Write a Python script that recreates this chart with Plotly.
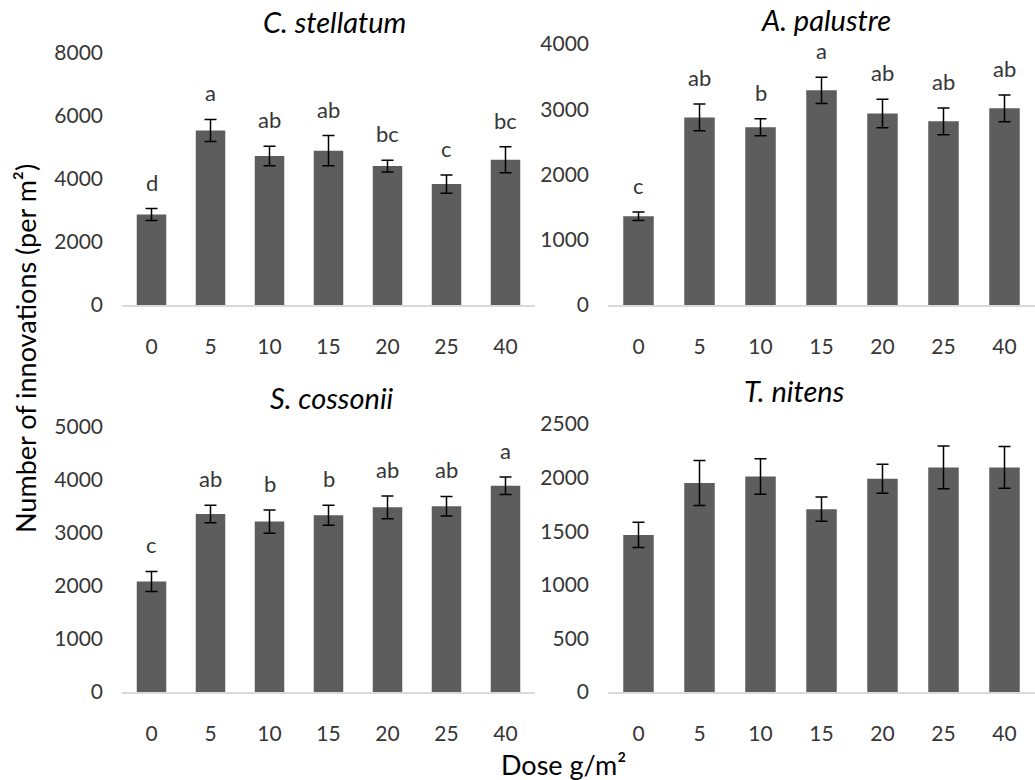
import plotly.graph_objects as go

doses = ["0", "5", "10", "15", "20", "25", "40"]

cs_mean = [2870, 5540, 4730, 4900, 4410, 3840, 4610]
cs_err = [190, 350, 310, 480, 185, 290, 410]
cs_letters = ["d", "a", "ab", "ab", "bc", "c", "bc"]

ap_mean = [1360, 2875, 2725, 3290, 2935, 2815, 3015]
ap_err = [65, 205, 130, 200, 220, 205, 205]
ap_letters = ["c", "ab", "b", "a", "ab", "ab", "ab"]

sc_mean = [2085, 3360, 3215, 3335, 3485, 3505, 3890]
sc_err = [190, 165, 220, 190, 215, 185, 165]
sc_letters = ["c", "ab", "b", "b", "ab", "ab", "a"]

tn_mean = [1465, 1950, 2010, 1705, 1990, 2095, 2095]
tn_err = [118, 210, 165, 113, 135, 200, 195]

titles = ["C. stellatum", "A. palustre", "S. cossonii", "T. nitens"]
y_title = "Number of innovations (per m²)"
x_title = "Dose g/m²"

BAR = "#5d5d5d"
TXT = "#363636"
FONT = "Lato"
W, H = 1035, 780

panels = [
    (cs_mean, cs_err, cs_letters, "x", "y", [0, 8000], 2000),
    (ap_mean, ap_err, ap_letters, "x2", "y2", [0, 4000], 1000),
    (sc_mean, sc_err, sc_letters, "x3", "y3", [0, 5000], 1000),
    (tn_mean, tn_err, None, "x4", "y4", [0, 2500], 500),
]

fig = go.Figure()
annotations = []
for mean, err, letters, xa, ya, rng, dt in panels:
    fig.add_trace(go.Bar(
        x=doses, y=mean, xaxis=xa, yaxis=ya,
        marker=dict(color=BAR, line=dict(width=0)),
        error_y=dict(type="data", array=err, color="black", thickness=1.5, width=6),
        showlegend=False,
    ))
    if letters:
        for i, (m, e, t) in enumerate(zip(mean, err, letters)):
            annotations.append(dict(
                x=i, y=m + e, xref=xa, yref=ya, text=t, showarrow=False,
                yanchor="bottom", yshift=11,
                font=dict(family=FONT, size=22, color=TXT),
            ))

def px_x(p):
    return p / W

def px_y(p):
    return 1 - p / H

xd_left = [px_x(122), px_x(535)]
xd_right = [px_x(608), 1.0]
yd = {
    "y": [px_y(305), px_y(53)],
    "y2": [px_y(305), px_y(44)],
    "y3": [px_y(692), px_y(427)],
    "y4": [px_y(692), px_y(424)],
}

xcommon = dict(
    type="category", showline=True, linecolor="#d9d9d9", linewidth=2,
    showgrid=False, ticks="", ticklabelstandoff=22, range=[-0.5, 6.5],
    tickfont=dict(family=FONT, size=21, color=TXT), fixedrange=True,
)
ycommon = dict(
    showline=False, showgrid=False, zeroline=False, ticks="",
    ticklabelstandoff=18, tickfont=dict(family=FONT, size=21, color=TXT),
)

layout = dict(
    width=W, height=H, margin=dict(l=0, r=0, t=0, b=0, pad=0, autoexpand=False),
    paper_bgcolor="white", plot_bgcolor="white",
    bargap=0.5, showlegend=False,
    font=dict(family=FONT, color=TXT),
)
layout["xaxis"] = dict(xcommon, domain=xd_left, anchor="y")
layout["xaxis2"] = dict(xcommon, domain=xd_right, anchor="y2")
layout["xaxis3"] = dict(xcommon, domain=xd_left, anchor="y3")
layout["xaxis4"] = dict(xcommon, domain=xd_right, anchor="y4")
for (mean, err, letters, xa, ya, rng, dt) in panels:
    key = "yaxis" if ya == "y" else "yaxis" + ya[1:]
    layout[key] = dict(ycommon, domain=yd[ya], range=rng, dtick=dt, anchor=xa)

title_pos = [(334, 21), (826, 19), (332, 397), (794, 390)]
for t, (tx, ty) in zip(titles, title_pos):
    annotations.append(dict(
        x=px_x(tx), y=px_y(ty), xref="paper", yref="paper", text="<i>" + t + "</i>",
        showarrow=False, xanchor="center", yanchor="middle",
        font=dict(family=FONT, size=29, color="#000000"),
    ))

annotations.append(dict(
    x=px_x(25), y=px_y(349), xref="paper", yref="paper", text=y_title,
    textangle=-90, showarrow=False, xanchor="center", yanchor="middle",
    font=dict(family=FONT, size=27, color="#000000"),
))
annotations.append(dict(
    x=px_x(563), y=px_y(764), xref="paper", yref="paper", text=x_title,
    showarrow=False, xanchor="center", yanchor="middle",
    font=dict(family=FONT, size=27, color="#000000"),
))

layout["annotations"] = annotations
fig.update_layout(**layout)
fig.write_html("out.html")
